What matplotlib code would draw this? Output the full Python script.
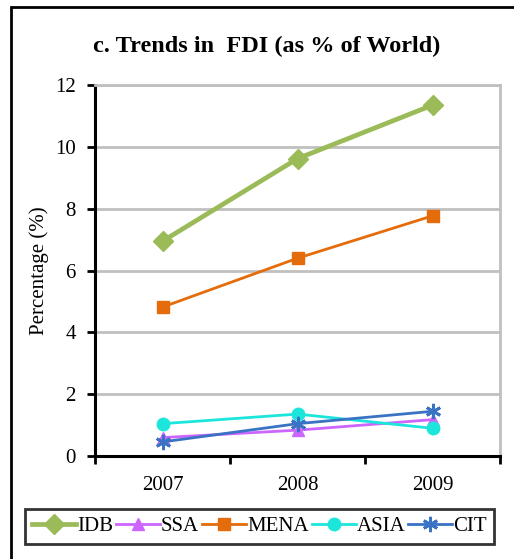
import numpy as np
import matplotlib.pyplot as plt
from matplotlib.patches import Rectangle

years = ["2007", "2008", "2009"]
idb = [6.95, 9.62, 11.35]
ssa = [0.60, 0.84, 1.18]
mena = [4.82, 6.40, 7.77]
asia = [1.05, 1.36, 0.90]
cit = [0.46, 1.05, 1.45]

plt.rcParams['font.family'] = ['Liberation Serif', 'DejaVu Serif']

fig = plt.figure(figsize=(5.14, 5.59), dpi=100)
ax = fig.add_axes([0.185, 0.184, 0.788, 0.664])

x = np.arange(len(years)) + 0.5

ax.plot(x, idb, color='#9BBB59', linewidth=3.4, marker='D', markersize=10, label="IDB")
ax.plot(x, ssa, color='#CC66FF', linewidth=2.0, marker='^', markersize=9, label="SSA")
ax.plot(x, mena, color='#E46C0A', linewidth=2.0, marker='s', markersize=9, label="MENA")
ax.plot(x, asia, color='#1CE6DC', linewidth=2.0, marker='o', markersize=9, label="ASIA")
ax.plot(x, cit, color='#3A72C4', linewidth=2.0, marker=(6, 2, 0), markersize=11,
        markeredgewidth=2, label="CIT")

ax.set_xlim(0, 3)
ax.set_ylim(0, 12)
ax.set_yticks(range(0, 13, 2))
ax.set_xticks([0, 1, 2, 3])
ax.set_xticklabels([])
ax.set_xticks(x, minor=True)
ax.set_xticklabels(years, minor=True)
ax.tick_params(axis='x', which='minor', length=0, pad=14, labelsize=15)
ax.tick_params(axis='x', which='major', length=6, width=2, direction='out')
ax.tick_params(axis='y', length=6, width=2, direction='out', labelsize=15, pad=8)

ax.yaxis.grid(True, color='#C0C0C0', linewidth=2)
ax.set_axisbelow(True)
for side in ['left', 'bottom']:
    ax.spines[side].set_linewidth(2.2)
    ax.spines[side].set_color('black')
for side in ['top', 'right']:
    ax.spines[side].set_linewidth(2)
    ax.spines[side].set_color('#C0C0C0')

ax.set_ylabel("Percentage (%)", fontsize=15, labelpad=4)
fig.text(0.518, 0.917, "c. Trends in  FDI (as % of World)", ha='center', va='center',
         fontsize=17.5, fontweight='bold')

leg = fig.legend(loc='center', bbox_to_anchor=(0.505, 0.058), ncol=5, fontsize=15,
                 handlelength=2.1, handletextpad=0.05, columnspacing=0.15,
                 borderpad=0.35, borderaxespad=0, frameon=True, fancybox=False)
leg.get_frame().set_edgecolor('black')
leg.get_frame().set_linewidth(2)

# outer frame around the whole chart
fig.patches.append(Rectangle((0.021, -0.1), 1.2, 0.1 + 0.987, transform=fig.transFigure,
                             fill=False, edgecolor='black', linewidth=2))

fig.savefig("out.png", dpi=100)
